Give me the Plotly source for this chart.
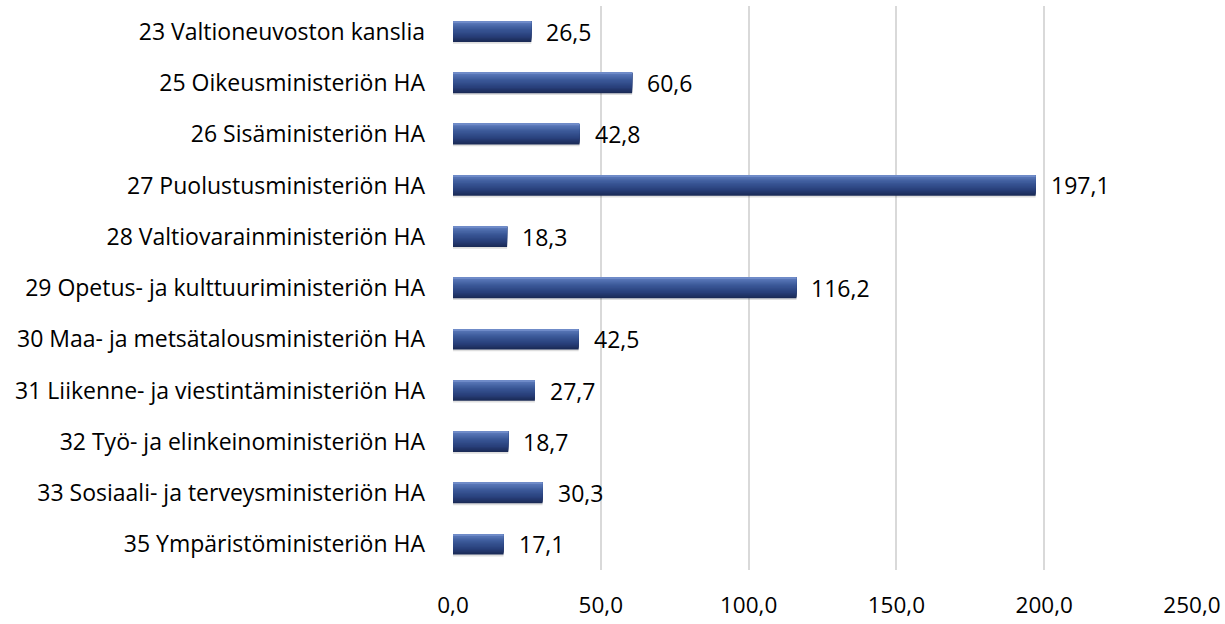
import plotly.graph_objects as go

categories = [
    "23 Valtioneuvoston kanslia",
    "25 Oikeusministeriön HA",
    "26 Sisäministeriön HA",
    "27 Puolustusministeriön HA",
    "28 Valtiovarainministeriön HA",
    "29 Opetus- ja kulttuuriministeriön HA",
    "30 Maa- ja metsätalousministeriön HA",
    "31 Liikenne- ja viestintäministeriön HA",
    "32 Työ- ja elinkeinoministeriön HA",
    "33 Sosiaali- ja terveysministeriön HA",
    "35 Ympäristöministeriön HA",
]
values = [26.5, 60.6, 42.8, 197.1, 18.3, 116.2, 42.5, 27.7, 18.7, 30.3, 17.1]
tick_values = [0, 50, 100, 150, 200, 250]

FONT = "Open Sans"
fig = go.Figure()

# shadow
fig.add_trace(go.Bar(y=categories, x=values, orientation="h", width=0.4, offset=-0.165,
                     marker=dict(color="rgba(0,0,0,0.13)", line=dict(width=0)),
                     hoverinfo="skip", showlegend=False))

# vertical gradient (style only): stops as (t from top 0..1, rgb)
stops = [(0.0, (0x88, 0xA2, 0xDA)), (0.12, (0x58, 0x76, 0xB7)), (0.4, (0x3A, 0x58, 0x97)),
         (0.75, (0x28, 0x3F, 0x7A)), (1.0, (0x1B, 0x2B, 0x57))]


def grad(t):
    for (t0, c0), (t1, c1) in zip(stops[:-1], stops[1:]):
        if t <= t1:
            f = (t - t0) / (t1 - t0)
            return "rgb(%d,%d,%d)" % tuple(round(a + (b - a) * f) for a, b in zip(c0, c1))
    return "rgb(%d,%d,%d)" % stops[-1][1]


N = 16
BW = 0.4
for i in range(N):
    t = 1.0 - i / N
    fig.add_trace(go.Bar(y=categories, x=values, orientation="h", width=BW * t, offset=-BW / 2,
                         marker=dict(color=grad(t), line=dict(width=0)),
                         hoverinfo="skip", showlegend=False))

for c, v in zip(categories, values):
    fig.add_annotation(x=v, y=c, xref="x", yref="y", text=f"{v:.1f}".replace(".", ","),
                       showarrow=False, xanchor="left", xshift=13,
                       font=dict(family=FONT, size=23, color="#000000"))

fig.update_layout(
    width=1225, height=624,
    margin=dict(l=453, r=33, t=6, b=54),
    paper_bgcolor="white", plot_bgcolor="white",
    barmode="overlay",
    separators=",.",
    font=dict(family=FONT, size=23, color="#000000"),
    xaxis=dict(range=[0, 250], tickvals=tick_values, tickformat=".1f",
               tickfont=dict(size=22.5),
               showgrid=True, gridcolor="#D9D9D9", gridwidth=1.5,
               zeroline=False, showline=False, ticks="", ticklabelstandoff=19,
               automargin=False, fixedrange=True),
    yaxis=dict(autorange="reversed", showgrid=False, zeroline=False, showline=False,
               ticks="", ticklabelstandoff=27, automargin=False,
               tickfont=dict(size=23)),
)

fig.write_html(
    "out.html",
    config={"displayModeBar": False},
    post_script="document.body.style.margin='0';document.body.style.overflow='hidden';",
)
